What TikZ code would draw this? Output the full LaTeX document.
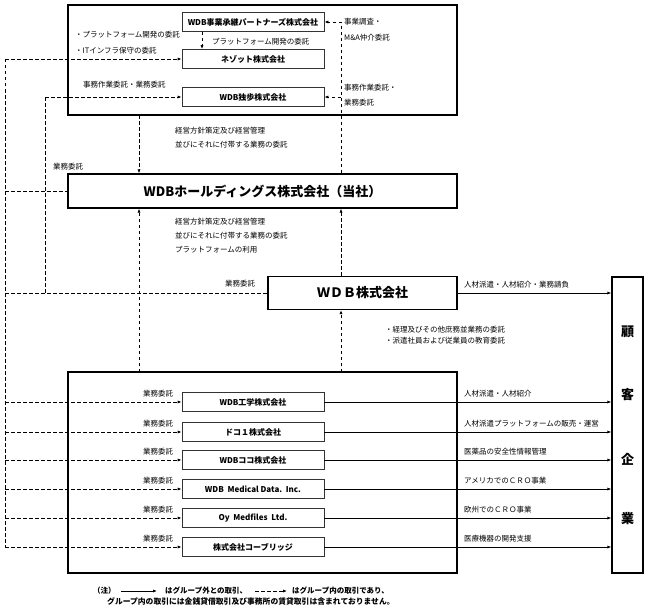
\documentclass[tikz,border=0pt]{standalone}
\usepackage{fontspec}
\setmainfont{Noto Sans CJK JP}
\usepackage{tikz}
\usetikzlibrary{arrows.meta,calc}

\begin{document}
\begin{tikzpicture}[x=1pt,y=-1pt,
    subbox/.style={draw=black!80, line width=0.8pt, minimum width=142pt,
      minimum height=19pt, inner sep=0pt, font=\bfseries\fontsize{8}{9}\selectfont},
    bigbox/.style={draw, line width=1.3pt, inner sep=0pt,
      font=\bfseries\fontsize{13}{15}\selectfont},
    lbl/.style={anchor=west, inner sep=0pt, font=\fontsize{7.5}{9}\selectfont},
    note/.style={anchor=west, inner sep=0pt, font=\bfseries\fontsize{7.5}{9}\selectfont},
    grpline/.style={dash pattern=on 3.5pt off 2.5pt, line width=0.9pt},
    grp/.style={grpline, -{Latex[length=4pt,width=3.2pt]}},
    ext/.style={line width=0.8pt, -{Latex[length=4pt,width=3.2pt]}}]
        \useasboundingbox (0,0) rectangle (648,610);
        % Group frames
        \draw[line width=1.8pt] (68,5) rectangle (457,115);
        \draw[line width=1.8pt] (68,372) rectangle (457,573);
        % Companies
        \node[subbox] (jigyo) at (253,22) {WDB事業承継パートナーズ株式会社};
        \node[subbox] (nezot) at (253,59) {ネゾット株式会社};
        \node[subbox] (doppo) at (253,97) {WDB独歩株式会社};
        \node[bigbox, minimum width=389pt, minimum height=34pt] (hd) at (262.5,191)
        {WDBホールディングス株式会社（当社）};
        \node[bigbox, minimum width=189pt, minimum height=33pt] (wdb) at (362.5,293)
        {ＷＤＢ株式会社};
        \node[bigbox, minimum width=31pt, minimum height=296pt] (kokyaku) at (627.5,425) {};
        \foreach \c/\y in {顧/332,客/395,企/459,業/519}
        \node[font=\bfseries\fontsize{13}{15}\selectfont] (kc\y) at (627.5,\y) {\c};
        % Trunks of the group lines
        \coordinate (trunkL) at (5,59);
        \coordinate (trunkM) at (45,97);
        \coordinate (trunkR) at (341,22);
        \coordinate (topmid) at (139,115);
        \coordinate (lowmid) at (139,372);
        \coordinate (lowright) at (341,372);
        % Subsidiaries in the lower frame
        \foreach \i/\y/\name/\job in {
            1/402/WDB工学株式会社/人材派遣・人材紹介,
            2/432/ドコ１株式会社/人材派遣プラットフォームの販売・運営,
            3/460/WDBココ株式会社/医薬品の安全性情報管理,
            4/489/WDB~~Medical Data.~~Inc./アメリカでのＣＲＯ事業,
            5/518/Oy~~Medfiles~~Ltd./欧州でのＣＲＯ事業,
            6/547/株式会社コーブリッジ/医療機器の開発支援}{
            \node[subbox] (s\i) at (253,\y) {\name};
            \draw[grp] (trunkL |- s\i.west) -- (s\i.west);
            \draw[ext] (s\i.east) -- (s\i.east -| kokyaku.west);
            \node[lbl] (w\i) at (143,\y-8) {業務委託};
            \node[lbl] (j\i) at (464,\y-8) {\job};
        }
        % Group lines, left side
        \draw[grpline] (trunkL) -- (trunkL |- s6.west);
        \draw[grp] (trunkL) -- (nezot.west);
        \draw[grpline] (trunkL |- hd.west) -- (hd.west);
        \draw[grpline] (trunkL |- wdb.west) -- (wdb.west);
        \draw[grp] (trunkM) -- (doppo.west);
        \draw[grpline] (trunkM) -- (trunkM |- wdb.west);
        % Group lines, middle and right
        \draw[grp] ([xshift=-51pt]jigyo.south) -- ([xshift=-51pt]nezot.north);
        \draw[grp] (hd.north -| trunkR) -- (trunkR) -- (jigyo.east);
        \draw[grp] (trunkR |- doppo.east) -- (doppo.east);
        \draw[grp] (topmid) -- (topmid |- hd.north);
        \draw[grp] (lowmid) -- (lowmid |- hd.south);
        \draw[grp] (wdb.north -| trunkR) -- (hd.south -| trunkR);
        \draw[grp] (lowright) -- (lowright |- wdb.south);
        \draw[ext] (wdb.east) -- (wdb.east -| kokyaku.west);
        % Labels
        \node[lbl] (t1) at (75,35) {・プラットフォーム開発の委託};
        \node[lbl] (t2) at (75,51) {・ITインフラ保守の委託};
        \node[lbl] (t3) at (212,42) {プラットフォーム開発の委託};
        \node[lbl] (t4) at (344,22) {事業調査・};
        \node[lbl] (t5) at (344,38) {M\&A仲介委託};
        \node[lbl] (t6) at (83,85) {事務作業委託・業務委託};
        \node[lbl] (t7) at (344,88) {事務作業委託・};
        \node[lbl] (t8) at (344,103) {業務委託};
        \node[lbl] (t9) at (175,131) {経営方針策定及び経営管理};
        \node[lbl] (t10) at (175,145) {並びにそれに付帯する業務の委託};
        \node[lbl] (t11) at (53,167) {業務委託};
        \node[lbl] (t12) at (175,222) {経営方針策定及び経営管理};
        \node[lbl] (t13) at (175,236) {並びにそれに付帯する業務の委託};
        \node[lbl] (t14) at (175,250) {プラットフォームの利用};
        \node[lbl] (t15) at (225,284) {業務委託};
        \node[lbl] (t16) at (464,285) {人材派遣・人材紹介・業務請負};
        \node[lbl] (t17) at (385,330) {・経理及びその他庶務並業務の委託};
        \node[lbl] (t18) at (385,341) {・派遣社員および従業員の教育委託};
        % Note
        \node[note] (chu) at (93,591) {（注）};
        \coordinate (na) at (121,591);
        \coordinate (nb) at (157,591);
        \draw[ext] (na) -- (nb);
        \node[note] (gai) at (165,591) {はグループ外との取引、};
        \coordinate (nc) at (255,591);
        \coordinate (nd) at (287,591);
        \draw[grp] (nc) -- (nd);
        \node[note] (nai) at (292,591) {はグループ内の取引であり、};
        \node[note, font=\bfseries\fontsize{7.8}{9}\selectfont] (nai2) at (107,601)
        {グループ内の取引には金銭貸借取引及び事務所の賃貸取引は含まれておりません。};
    \end{tikzpicture}
\end{document}
